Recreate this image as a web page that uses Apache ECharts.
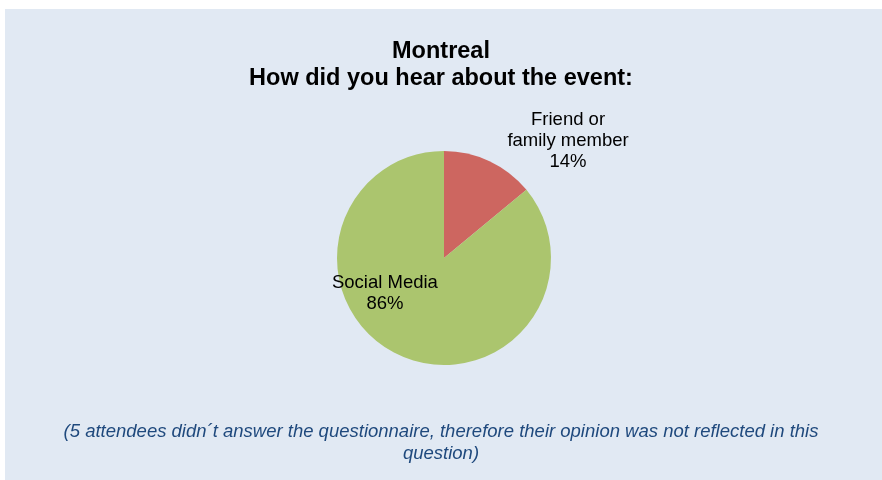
<!DOCTYPE html>
<html>
<head>
<meta charset="utf-8">
<script src="https://cdn.jsdelivr.net/npm/echarts@6/dist/echarts.min.js"></script>
<style>
html,body{margin:0;padding:0;background:#ffffff;}
#chart{width:882px;height:480px;}
</style>
</head>
<body>
<div id="chart"></div>
<script>
const categories = ["Friend or\nfamily member", "Social Media"];
const values = [14, 86];
const sliceColors = ["#CD6660", "#ABC56E"];
const titleText = "Montreal\nHow did you hear about the event:";
const footnote = "(5 attendees didn\u00b4t answer the questionnaire, therefore their opinion was not reflected in this\nquestion)";

const chart = echarts.init(document.getElementById('chart'));
const labelOffsets = [[100, -66], [-35, -16]];
chart.setOption({
  backgroundColor: '#ffffff',
  animation: false,
  graphic: [{
    type: 'rect', z: -10, silent: true,
    shape: {x: 5, y: 9, width: 877, height: 471},
    style: {fill: '#E1E9F3'}
  }],
  title: [{
    text: titleText,
    left: 'center',
    top: 33,
    padding: [5, 0, 5, 6],
    textStyle: {fontFamily: 'Liberation Sans, Arial', fontWeight: 'bold', fontSize: 23.5, lineHeight: 27, color: '#000', align: 'center'}
  }, {
    text: footnote,
    left: 'center',
    top: 416,
    textStyle: {fontFamily: 'Liberation Sans, Arial', fontStyle: 'italic', fontWeight: 'normal', fontSize: 18.5, lineHeight: 22, color: '#1F497D', align: 'center'}
  }],
  series: [{
    type: 'pie',
    center: [444, 258],
    radius: [0, 107],
    startAngle: 90,
    clockwise: true,
    labelLine: {show: false},
    itemStyle: {borderWidth: 0},
    data: categories.map((c, i) => ({
      name: c,
      value: values[i],
      itemStyle: {color: sliceColors[i]},
      label: {
        show: true,
        position: 'inside',
        offset: labelOffsets[i],
        formatter: '{b}\n{d}%',
        fontFamily: 'Liberation Sans, Arial',
        fontSize: 18.5,
        lineHeight: 21,
        color: '#000',
        align: 'center'
      }
    }))
  }]
});
</script>
</body>
</html>
